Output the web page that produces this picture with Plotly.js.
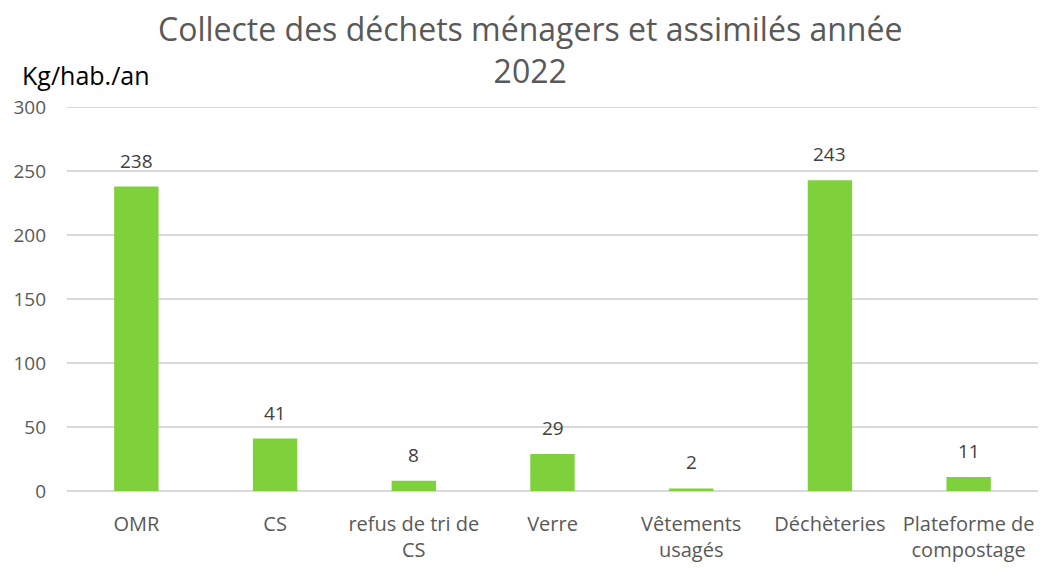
<!DOCTYPE html>
<html><head><meta charset="utf-8">
<script src="https://cdn.plot.ly/plotly-3.0.1.min.js"></script>
<style>body{margin:0;background:#fff}#c{width:1048px;height:571px}</style>
</head><body><div id="c"></div>
<script>
const categories = ["OMR", "CS", "refus de tri de<br>CS", "Verre", "Vêtements<br>usagés", "Déchèteries", "Plateforme de<br>compostage"];
const values = [238, 41, 8, 29, 2, 243, 11];
const yTicks = [0, 50, 100, 150, 200, 250, 300];
const titleText = "Collecte des déchets ménagers et assimilés année<br>2022";
const yLabel = "Kg/hab./an";

const font = "Open Sans, Noto Sans, sans-serif";
const valueLabels = categories.map((c, i) => ({
  x: c, y: values[i], xref: "x", yref: "y", text: String(values[i]),
  showarrow: false, yanchor: "bottom", yshift: 11,
  font: {family: font, size: 19, color: "#404040"}
}));
Plotly.newPlot("c", [{
  type: "bar",
  x: categories,
  y: values,
  marker: {color: "#7FD13B"},
  hoverinfo: "none"
}], {
  width: 1048, height: 571,
  margin: {l: 67, r: 10, t: 106, b: 80},
  paper_bgcolor: "#fff", plot_bgcolor: "#fff",
  bargap: 0.68,
  showlegend: false,
  xaxis: {tickfont: {family: font, size: 20, color: "#595959"}, showline: false, ticks: "",
          ticklabelstandoff: 19, automargin: false},
  yaxis: {range: [0, 301], tickvals: yTicks, showgrid: true, gridcolor: "#D9D9D9", gridwidth: 1.5,
          zeroline: true, zerolinecolor: "#D9D9D9", zerolinewidth: 1.5,
          tickfont: {family: font, size: 19, color: "#595959"}, ticks: "", ticklen: 0,
          ticklabelstandoff: 20, automargin: false},
  annotations: valueLabels.concat([
    {text: titleText, xref: "paper", yref: "paper", x: 0.477, y: 1.146, xanchor: "center", yanchor: "middle",
     showarrow: false, font: {family: font, size: 32, color: "#595959"}},
    {text: yLabel, xref: "paper", yref: "paper", x: 0.0196, y: 1.0805,
     xanchor: "center", yanchor: "middle", showarrow: false,
     font: {family: font, size: 25, color: "#000"}}])
}, {displayModeBar: false, staticPlot: true});
</script></body></html>
